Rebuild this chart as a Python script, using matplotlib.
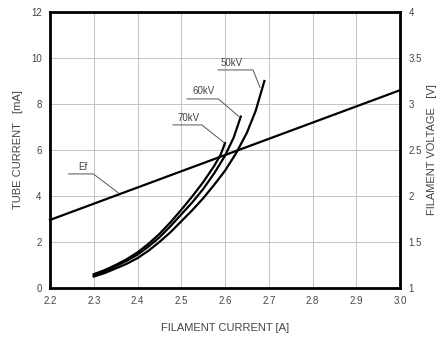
import matplotlib
matplotlib.use("Agg")
import matplotlib.pyplot as plt

# filament current [A] vs tube current [mA]
i50 = [2.300, 2.325, 2.350, 2.375, 2.400, 2.425, 2.450, 2.475, 2.500,
       2.525, 2.550, 2.575, 2.600, 2.625, 2.650, 2.670, 2.690]
ma50 = [0.50, 0.65, 0.85, 1.05, 1.30, 1.62, 2.00, 2.42, 2.90,
        3.38, 3.90, 4.48, 5.10, 5.85, 6.75, 7.70, 9.00]

i60 = [2.300, 2.325, 2.350, 2.375, 2.400, 2.425, 2.450, 2.475, 2.500,
       2.525, 2.550, 2.575, 2.600, 2.620, 2.636]
ma60 = [0.55, 0.72, 0.95, 1.18, 1.45, 1.80, 2.20, 2.68, 3.20,
        3.72, 4.30, 4.98, 5.75, 6.55, 7.45]

i70 = [2.300, 2.325, 2.350, 2.375, 2.400, 2.425, 2.450, 2.475, 2.500,
       2.525, 2.550, 2.575, 2.590, 2.600]
ma70 = [0.60, 0.78, 1.00, 1.25, 1.55, 1.92, 2.35, 2.85, 3.40,
        3.98, 4.60, 5.30, 5.80, 6.30]

# filament voltage [V]
i_ef = [2.2, 3.0]
v_ef = [1.74, 3.15]

x_ticks = [2.2, 2.3, 2.4, 2.5, 2.6, 2.7, 2.8, 2.9, 3.0]
x_labels = ["2.2", "2.3", "2.4", "2.5", "2.6", "2.7", "2.8", "2.9", "3.0"]
y_ticks = [0, 2, 4, 6, 8, 10, 12]
v_ticks = [1, 1.5, 2, 2.5, 3, 3.5, 4]
v_labels = ["1", "1.5", "2", "2.5", "3", "3.5", "4"]

# label text, text position, underline start, underline end, leader end
callouts = [
    ("50kV", (2.616, 9.77), (2.584, 9.48), (2.664, 9.48), (2.680, 8.72)),
    ("60kV", (2.552, 8.58), (2.513, 8.22), (2.585, 8.22), (2.634, 7.42)),
    ("70kV", (2.516, 7.38), (2.481, 7.09), (2.547, 7.09), (2.598, 6.32)),
    ("Ef", (2.276, 5.27), (2.242, 4.96), (2.299, 4.96), (2.356, 4.14)),
]

plt.rcParams['font.family'] = ['Liberation Sans', 'DejaVu Sans']
txt = "#444444"

fig = plt.figure(figsize=(4.45, 3.39), dpi=100)
ax = fig.add_axes([0.1124, 0.1504, 0.7865, 0.8142])
ax.set_xlim(2.2, 3.0)
ax.set_ylim(0, 12)
ax.set_xticks(x_ticks)
ax.set_xticklabels(x_labels)
ax.set_yticks(y_ticks)
ax.grid(True, color="#c4c4c4", linewidth=0.7)
ax.set_axisbelow(True)
ax.tick_params(length=0, labelsize=7, colors=txt, pad=6)
for s in ax.spines.values():
    s.set_linewidth(2)
    s.set_color("black")

ax2 = ax.twinx()
ax2.set_ylim(1, 4)
ax2.set_yticks(v_ticks)
ax2.set_yticklabels(v_labels)
ax2.tick_params(length=0, labelsize=7, colors=txt, pad=6)
for s in ax2.spines.values():
    s.set_visible(False)

ax.plot(i50, ma50, color="black", linewidth=1.6)
ax.plot(i60, ma60, color="black", linewidth=1.6)
ax.plot(i70, ma70, color="black", linewidth=1.6)
ax2.plot(i_ef, v_ef, color="black", linewidth=1.6, clip_on=False)

for name, tpos, u0, u1, end in callouts:
    ax.text(tpos[0], tpos[1], name, fontsize=7, color=txt, ha="center", va="center")
    ax.plot([u0[0], u1[0], end[0]], [u0[1], u1[1], end[1]],
            color="#555555", linewidth=0.7)

ax.set_xlabel("FILAMENT CURRENT [A]", fontsize=8, color=txt, labelpad=12)
ax.set_ylabel("TUBE CURRENT   [mA]", fontsize=8, color=txt, labelpad=6)
ax2.set_ylabel("FILAMENT VOLTAGE   [V]", fontsize=8, color=txt, labelpad=4)

fig.savefig("out.png", dpi=100)
